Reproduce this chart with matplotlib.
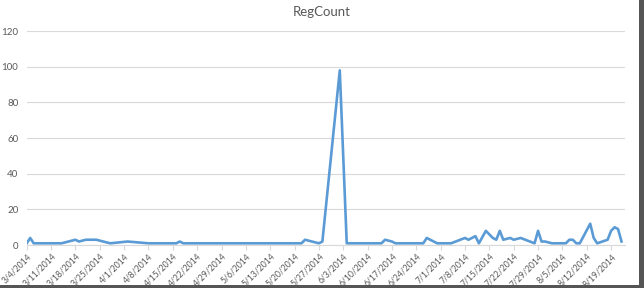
import pandas as pd
import matplotlib
matplotlib.use("Agg")
import matplotlib.pyplot as plt
from matplotlib.patches import Rectangle

# RegCount per day (gaps are days with no row)
dates = ["2014-03-04", "2014-03-05", "2014-03-06", "2014-03-14", "2014-03-18",
         "2014-03-19", "2014-03-21", "2014-03-24", "2014-03-26", "2014-03-28",
         "2014-04-02", "2014-04-08", "2014-04-16", "2014-04-17", "2014-04-18",
         "2014-05-22", "2014-05-23", "2014-05-27", "2014-05-28", "2014-06-02",
         "2014-06-04", "2014-06-14", "2014-06-15", "2014-06-17", "2014-06-18",
         "2014-06-26", "2014-06-27", "2014-06-30", "2014-07-04", "2014-07-08",
         "2014-07-09", "2014-07-11", "2014-07-12", "2014-07-14", "2014-07-16",
         "2014-07-17", "2014-07-18", "2014-07-19", "2014-07-21", "2014-07-22",
         "2014-07-24", "2014-07-28", "2014-07-29", "2014-07-30", "2014-07-31",
         "2014-08-02", "2014-08-06", "2014-08-07", "2014-08-08", "2014-08-09",
         "2014-08-10", "2014-08-13", "2014-08-14", "2014-08-15", "2014-08-18",
         "2014-08-19", "2014-08-20", "2014-08-21", "2014-08-22"]
reg_count = [1, 4, 1, 1, 3,
             2, 3, 3, 2, 1,
             2, 1, 1, 2, 1,
             1, 3, 1, 2, 98,
             1, 1, 3, 2, 1,
             1, 4, 1, 1, 4,
             3, 5, 1, 8, 4,
             3, 8, 3, 4, 3,
             4, 1, 8, 2, 2,
             1, 1, 3, 3, 1,
             1, 12, 4, 1, 3,
             8, 10, 9, 2]

x = pd.to_datetime(dates)
tick_dates = pd.date_range("2014-03-04", "2014-08-19", freq="7D")
y_ticks = [0, 20, 40, 60, 80, 100, 120]

grey = "#595959"
plt.rcParams['font.family'] = ['Lato', 'DejaVu Sans']

fig = plt.figure(figsize=(6.44, 2.88), dpi=100)
ax = fig.add_axes([0.0415, 0.149, 0.929, 0.743])

ax.plot(x, reg_count, color="#5b9bd5", linewidth=1.9, solid_joinstyle="round")

ax.set_xlim(pd.Timestamp("2014-03-04"), pd.Timestamp("2014-08-23"))
ax.set_ylim(0, 120)
ax.set_yticks(y_ticks)
ax.set_xticks(tick_dates)
ax.set_xticklabels([f"{d.month}/{d.day}/{d.year}" for d in tick_dates],
                   rotation=45, ha="right", va="top", rotation_mode="anchor")

ax.grid(axis="y", color="#d9d9d9", linewidth=0.8)
ax.set_axisbelow(True)
for side in ["top", "right", "left"]:
    ax.spines[side].set_visible(False)
ax.spines["bottom"].set_color("#d9d9d9")
ax.spines["bottom"].set_linewidth(0.8)
ax.tick_params(axis="x", colors="#d9d9d9", labelcolor=grey, labelsize=6.2,
               length=3.5, width=0.8, pad=1.5)
ax.tick_params(axis="y", length=0, labelcolor=grey, labelsize=7, pad=6)

fig.text(0.5, 0.957, "RegCount", ha="center", va="center", fontsize=9.5,
         color=grey)

# screenshot drop shadow on the right and bottom edges
fig.add_artist(Rectangle((0.992, 0.0), 0.008, 1.0, transform=fig.transFigure,
                         color="#555555", lw=0))
fig.add_artist(Rectangle((0.0, 0.0), 1.0, 0.012, transform=fig.transFigure,
                         color="#555555", lw=0))

fig.savefig("out.png", dpi=100)
